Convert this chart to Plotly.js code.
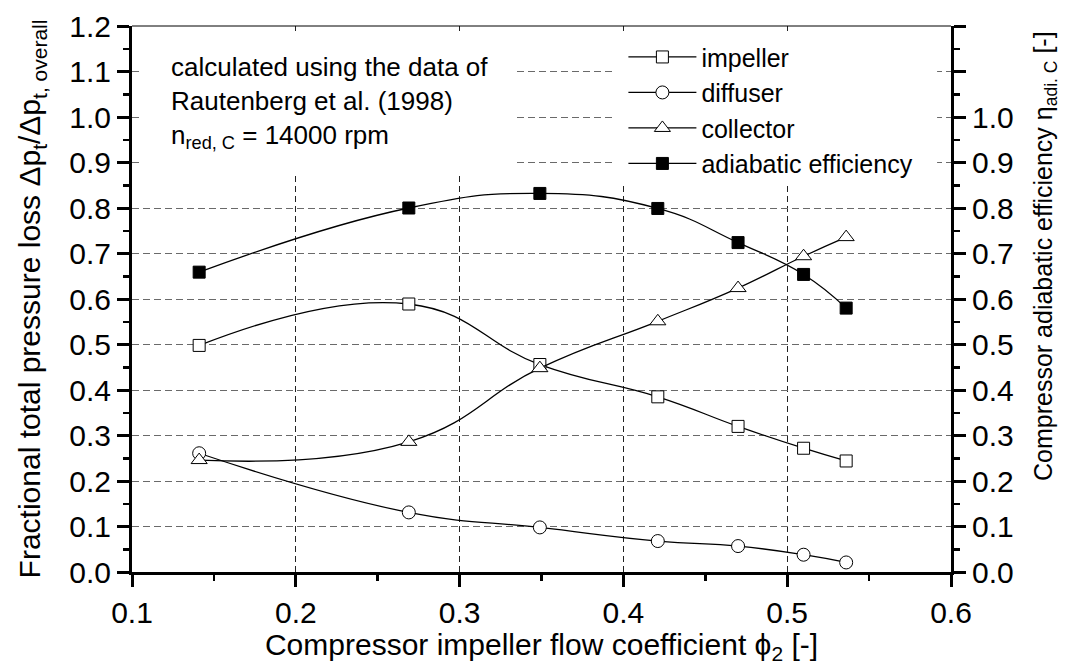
<!DOCTYPE html>
<html>
<head>
<meta charset="utf-8">
<script src="https://cdn.plot.ly/plotly-3.0.1.min.js"></script>
<style>html,body{margin:0;padding:0;background:#fff;}#chart{width:1066px;height:665px;}</style>
</head>
<body>
<div id="chart"></div>
<script>
// Data
const phi = [0.141, 0.269, 0.349, 0.421, 0.470, 0.510, 0.536];
const impeller = [0.498, 0.589, 0.456, 0.385, 0.320, 0.272, 0.244];
const diffuser = [0.261, 0.131, 0.098, 0.068, 0.057, 0.038, 0.021];
const collector = [0.246, 0.286, 0.448, 0.551, 0.624, 0.694, 0.736];
const efficiency = [0.659, 0.800, 0.832, 0.799, 0.724, 0.654, 0.580];

const seriesNames = ['impeller', 'diffuser', 'collector', 'adiabatic efficiency'];
const yTickVals = [0, 0.1, 0.2, 0.3, 0.4, 0.5, 0.6, 0.7, 0.8, 0.9, 1.0, 1.1, 1.2];
const yLeftTickText = ['0.0','0.1','0.2','0.3','0.4','0.5','0.6','0.7','0.8','0.9','1.0','1.1','1.2'];
const yRightTickText = ['0.0','0.1','0.2','0.3','0.4','0.5','0.6','0.7','0.8','0.9','1.0',' ',' '];
const xTickVals = [0.1, 0.2, 0.3, 0.4, 0.5, 0.6];
const xTickText = ['0.1','0.2','0.3','0.4','0.5','0.6'];

const FONT = 'Liberation Sans, Arial, Helvetica, sans-serif';
const lineStyle = {color: '#000', width: 1.3, shape: 'spline', smoothing: 1.3};

const traces = [
  {x: phi, y: impeller, name: seriesNames[0], mode: 'lines+markers', line: lineStyle,
   marker: {symbol: 'square', size: 12, color: '#fff', line: {color: '#000', width: 1}}},
  {x: phi, y: diffuser, name: seriesNames[1], mode: 'lines+markers', line: lineStyle,
   marker: {symbol: 'circle', size: 13, color: '#fff', line: {color: '#000', width: 1}}},
  {x: phi, y: collector, name: seriesNames[2], mode: 'lines+markers', line: lineStyle,
   marker: {symbol: 'triangle-up', size: 14, color: '#fff', line: {color: '#000', width: 1}}},
  {x: phi, y: efficiency, name: seriesNames[3], mode: 'lines+markers', line: lineStyle, yaxis: 'y2',
   marker: {symbol: 'square', size: 12, color: '#000', line: {color: '#000', width: 1}}}
];

const minorTicks = {ticks: 'outside', ticklen: 6, tickwidth: 2.5, tickcolor: '#000', dtick: 0.05, showgrid: false};

const layout = {
  width: 1066, height: 665,
  margin: {l: 132, r: 115, t: 26, b: 93},
  paper_bgcolor: '#fff', plot_bgcolor: '#fff',
  font: {family: FONT, color: '#000', size: 26},
  showlegend: true,
  legend: {x: 0.6, y: 0.985, xanchor: 'left', yanchor: 'top', bgcolor: 'rgba(255,255,255,0)',
           font: {family: FONT, size: 25, color: '#000'}, itemwidth: 68, tracegroupgap: 0},
  xaxis: {
    range: [0.1, 0.6], tickvals: xTickVals, ticktext: xTickText,
    ticks: 'outside', ticklen: 12, tickwidth: 3, tickcolor: '#000',
    showline: true, linecolor: '#000', linewidth: 3,
    showgrid: true, gridcolor: '#222', gridwidth: 1, griddash: '6px,4px',
    zeroline: false, tickfont: {family: FONT, size: 30, color: '#000'},
    minor: minorTicks,
    title: {text: 'Compressor impeller flow coefficient ϕ<sub>2</sub> [-]', font: {family: FONT, size: 30, color: '#000'}, standoff: 6}
  },
  yaxis: {
    range: [0, 1.2], tickvals: yTickVals, ticktext: yLeftTickText,
    ticks: 'outside', ticklen: 12, tickwidth: 3, tickcolor: '#000',
    showline: true, linecolor: '#000', linewidth: 3,
    showgrid: true, gridcolor: '#6a6a6a', gridwidth: 1, griddash: '7px,4px',
    zeroline: false, tickfont: {family: FONT, size: 30, color: '#000'},
    minor: minorTicks,
    title: {text: 'Fractional total pressure loss Δp<sub>t</sub>/Δp<sub>t, overall</sub>', font: {family: FONT, size: 30, color: '#000'}, standoff: 20}
  },
  yaxis2: {
    overlaying: 'y', side: 'right', anchor: 'x',
    range: [0, 1.2], tickvals: yTickVals, ticktext: yRightTickText,
    ticks: 'outside', ticklen: 12, tickwidth: 3, tickcolor: '#000',
    showline: true, linecolor: '#000', linewidth: 3,
    showgrid: false, zeroline: false,
    tickfont: {family: FONT, size: 30, color: '#000'},
    minor: minorTicks
  },
  shapes: [
    {type: 'rect', xref: 'x', yref: 'y', x0: 0.1062, x1: 0.3348, y0: 0.877, y1: 1.189,
     fillcolor: '#fff', line: {width: 0}, layer: 'between'},
    {type: 'rect', xref: 'x', yref: 'y', x0: 0.3933, x1: 0.5915, y0: 0.855, y1: 1.189,
     fillcolor: '#fff', line: {width: 0}, layer: 'between'},
    {type: 'line', xref: 'paper', yref: 'paper', x0: 0, x1: 1, y0: 1, y1: 1,
     line: {color: '#000', width: 1}, layer: 'above'}
  ],
  annotations: [
    {xref: 'paper', yref: 'paper', x: 0.045, y: 0.956, xanchor: 'left', yanchor: 'top', align: 'left',
     showarrow: false, font: {family: FONT, size: 26, color: '#000'},
     text: 'calculated using the data of<br>Rautenberg et al. (1998)<br>n<sub>red, C</sub> = 14000 rpm'},
    {xref: 'paper', yref: 'paper', x: 1.1148, y: 0.5788, xanchor: 'center', yanchor: 'middle',
     textangle: -90, showarrow: false, font: {family: FONT, size: 25, color: '#000'},
     text: 'Compressor adiabatic efficiency η<sub>adi. C</sub> [-]'}
  ]
};

Plotly.newPlot('chart', traces, layout, {displayModeBar: false, staticPlot: true});
</script>
</body>
</html>
